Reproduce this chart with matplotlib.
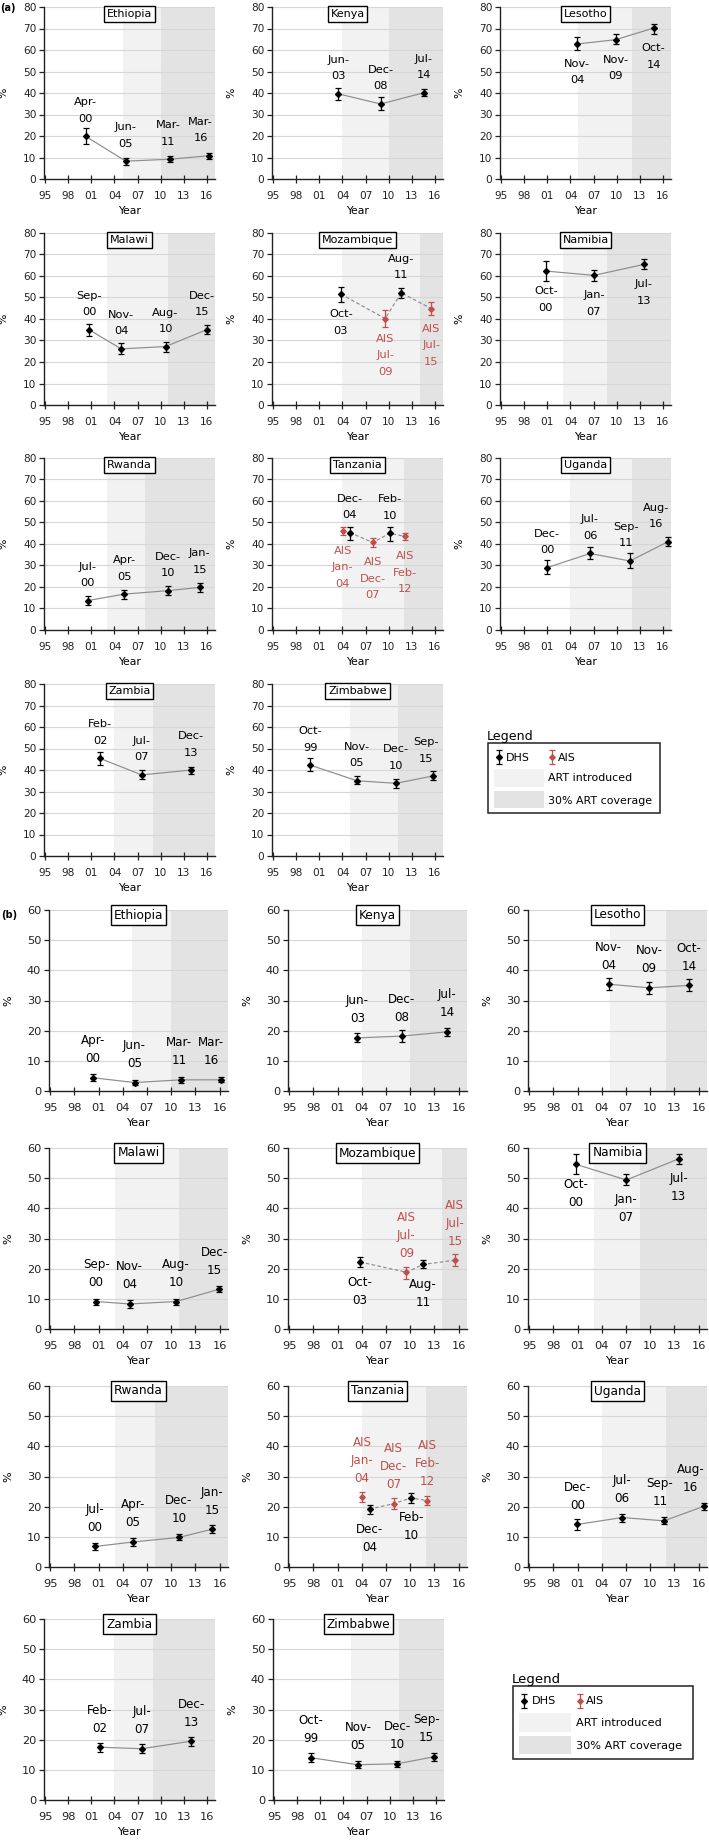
import matplotlib
matplotlib.use('Agg')
import matplotlib.pyplot as plt
from matplotlib.patches import Rectangle

plt.rcParams['font.family'] = ['DejaVu Sans']

# ---------------- data ----------------
countries = ['Ethiopia', 'Kenya', 'Lesotho', 'Malawi', 'Mozambique', 'Namibia',
             'Rwanda', 'Tanzania', 'Uganda', 'Zambia', 'Zimbabwe']

dhs_dates = {
    'Ethiopia': ['Apr-00', 'Jun-05', 'Mar-11', 'Mar-16'],
    'Kenya': ['Jun-03', 'Dec-08', 'Jul-14'],
    'Lesotho': ['Nov-04', 'Nov-09', 'Oct-14'],
    'Malawi': ['Sep-00', 'Nov-04', 'Aug-10', 'Dec-15'],
    'Mozambique': ['Oct-03', 'Aug-11'],
    'Namibia': ['Oct-00', 'Jan-07', 'Jul-13'],
    'Rwanda': ['Jul-00', 'Apr-05', 'Dec-10', 'Jan-15'],
    'Tanzania': ['Dec-04', 'Feb-10'],
    'Uganda': ['Dec-00', 'Jul-06', 'Sep-11', 'Aug-16'],
    'Zambia': ['Feb-02', 'Jul-07', 'Dec-13'],
    'Zimbabwe': ['Oct-99', 'Nov-05', 'Dec-10', 'Sep-15'],
}
ais_dates = {
    'Mozambique': ['Jul-09', 'Jul-15'],
    'Tanzania': ['Jan-04', 'Dec-07', 'Feb-12'],
}

# year ART introduced / year 30% ART coverage reached
art_intro = {'Ethiopia': 2005.1, 'Kenya': 2004, 'Lesotho': 2005, 'Malawi': 2003,
             'Mozambique': 2004, 'Namibia': 2003, 'Rwanda': 2003, 'Tanzania': 2004,
             'Uganda': 2004, 'Zambia': 2004, 'Zimbabwe': 2005}
art_30 = {'Ethiopia': 2010, 'Kenya': 2010, 'Lesotho': 2012, 'Malawi': 2011,
          'Mozambique': 2014, 'Namibia': 2008.8, 'Rwanda': 2008, 'Tanzania': 2012,
          'Uganda': 2012, 'Zambia': 2009, 'Zimbabwe': 2011.2}

# panel (a) estimates (%), with lower / upper CI
a_dhs_val = {'Ethiopia': [19.8, 8.3, 9.2, 10.8], 'Kenya': [39.6, 34.9, 40.1],
             'Lesotho': [62.8, 64.8, 70.2], 'Malawi': [35.0, 26.1, 27.2, 35.0],
             'Mozambique': [51.6, 52.2], 'Namibia': [62.3, 60.3, 65.4],
             'Rwanda': [13.7, 16.7, 18.3, 19.8], 'Tanzania': [45.3, 45.0],
             'Uganda': [29.0, 35.6, 32.1, 41.0], 'Zambia': [45.4, 37.7, 40.0],
             'Zimbabwe': [42.3, 35.0, 33.8, 37.2]}
a_dhs_lo = {'Ethiopia': [16.1, 6.7, 7.8, 9.2], 'Kenya': [36.9, 32.1, 38.5],
            'Lesotho': [60.2, 62.8, 67.5], 'Malawi': [32.3, 23.8, 24.8, 33.1],
            'Mozambique': [48.0, 49.8], 'Namibia': [57.6, 57.6, 63.1],
            'Rwanda': [11.4, 14.4, 16.4, 17.8], 'Tanzania': [41.9, 41.6],
            'Uganda': [26.2, 33.2, 29.0, 39.0], 'Zambia': [42.3, 35.7, 38.1],
            'Zimbabwe': [39.5, 33.5, 31.8, 35.3]}
a_dhs_hi = {'Ethiopia': [23.9, 9.7, 10.6, 12.3], 'Kenya': [42.1, 38.0, 41.9],
            'Lesotho': [65.9, 67.3, 72.3], 'Malawi': [37.8, 28.7, 29.5, 37.3],
            'Mozambique': [55.0, 54.2], 'Namibia': [67.0, 62.6, 68.1],
            'Rwanda': [15.9, 18.7, 20.3, 21.9], 'Tanzania': [48.1, 47.8],
            'Uganda': [32.4, 38.7, 35.9, 43.4], 'Zambia': [48.2, 40.0, 41.6],
            'Zimbabwe': [45.4, 37.1, 36.0, 39.5]}
a_ais_val = {'Mozambique': [40.2, 44.8], 'Tanzania': [46.2, 40.7, 43.5]}
a_ais_lo = {'Mozambique': [36.3, 42.0], 'Tanzania': [44.2, 38.8, 41.9]}
a_ais_hi = {'Mozambique': [44.4, 47.7], 'Tanzania': [48.1, 42.7, 45.0]}

# panel (b) estimates (%), with lower / upper CI
b_dhs_val = {'Ethiopia': [4.4, 2.8, 3.7, 3.7], 'Kenya': [17.6, 18.2, 19.6],
             'Lesotho': [35.4, 34.2, 35.0], 'Malawi': [9.1, 8.3, 9.1, 13.2],
             'Mozambique': [22.2, 21.4], 'Namibia': [54.6, 49.4, 56.4],
             'Rwanda': [6.8, 8.3, 9.8, 12.5], 'Tanzania': [19.2, 22.9],
             'Uganda': [14.1, 16.4, 15.3, 20.1], 'Zambia': [17.5, 17.0, 19.5],
             'Zimbabwe': [14.0, 11.7, 12.0, 14.3]}
b_dhs_lo = {'Ethiopia': [3.3, 2.1, 2.8, 3.0], 'Kenya': [16.4, 16.4, 18.3],
            'Lesotho': [33.5, 32.3, 33.2], 'Malawi': [8.0, 7.1, 8.0, 12.2],
            'Mozambique': [20.5, 20.1], 'Namibia': [51.3, 47.6, 54.6],
            'Rwanda': [5.8, 7.0, 8.8, 11.3], 'Tanzania': [17.7, 21.3],
            'Uganda': [12.4, 14.9, 14.1, 18.8], 'Zambia': [16.0, 15.5, 18.0],
            'Zimbabwe': [12.5, 10.5, 11.0, 13.0]}
b_dhs_hi = {'Ethiopia': [5.8, 3.7, 4.7, 4.6], 'Kenya': [19.3, 20.1, 20.8],
            'Lesotho': [37.6, 36.2, 37.2], 'Malawi': [10.1, 9.5, 10.1, 14.3],
            'Mozambique': [23.8, 22.9], 'Namibia': [58.0, 51.3, 57.9],
            'Rwanda': [7.9, 9.7, 10.9, 13.8], 'Tanzania': [20.7, 24.6],
            'Uganda': [15.8, 17.7, 16.5, 21.3], 'Zambia': [19.0, 18.5, 21.0],
            'Zimbabwe': [15.5, 13.0, 13.0, 15.7]}
b_ais_val = {'Mozambique': [18.8, 22.8], 'Tanzania': [23.2, 21.0, 22.0]}
b_ais_lo = {'Mozambique': [16.7, 21.0], 'Tanzania': [21.7, 19.2, 20.5]}
b_ais_hi = {'Mozambique': [20.5, 25.0], 'Tanzania': [25.0, 22.8, 23.5]}

x_ticks = [1995, 1998, 2001, 2004, 2007, 2010, 2013, 2016]
x_ticklabels = ['95', '98', '01', '04', '07', '10', '13', '16']

# ---------------- layout / style ----------------
W, H, DPI = 709, 1848, 100
MONTHS = ['Jan', 'Feb', 'Mar', 'Apr', 'May', 'Jun', 'Jul', 'Aug', 'Sep', 'Oct', 'Nov', 'Dec']
LIGHT, DARK = '#f2f2f2', '#e3e3e3'
AIS_C = '#c0504d'
LINE_C = '#8c8c8c'
XMIN, XMAX = 1994.85, 2017.05


def date_to_x(d):
    m, y = d.split('-')
    y = int(y)
    year = 1900 + y if y > 50 else 2000 + y
    return year + (MONTHS.index(m) + 0.5) / 12.0


# label placement: 'a' above, 'b' below ; horizontal shift (px)
a_dhs_place = {'Lesotho': 'bbb', 'Mozambique': 'ba', 'Namibia': 'bbb'}
a_ais_place = {'Mozambique': 'bb', 'Tanzania': 'bbb'}
b_dhs_place = {'Mozambique': 'bb', 'Namibia': 'bbb', 'Tanzania': 'bb'}
b_ais_place = {'Mozambique': 'aa', 'Tanzania': 'aaa'}
a_dx = {('Ethiopia', 3): -8, ('Ethiopia', 2): -2, ('Malawi', 3): -5,
        ('Uganda', 3): -12, ('Uganda', 2): -4, ('Zimbabwe', 3): -7}
b_dx = {('Ethiopia', 3): -10, ('Ethiopia', 2): -2, ('Malawi', 3): -5,
        ('Uganda', 3): -13, ('Uganda', 2): -4, ('Zimbabwe', 3): -7}
a_title_dx = {'Kenya': -10}
b_title_dx = {}

panels = {
    'a': dict(ymax=80, lefts=[[44, 272, 500]] * 4, tops=[7, 233, 458, 684],
              ws=[171] * 4, h=172,
              dhs=(a_dhs_val, a_dhs_lo, a_dhs_hi), ais=(a_ais_val, a_ais_lo, a_ais_hi),
              dplace=a_dhs_place, aplace=a_ais_place, dx=a_dx, tdx=a_title_dx,
              fs_tick=7.6, fs_axl=7.8, fs_lab=8.2, fs_title=8.0, ls=16.5, up=16.5, down=21,
              title_dy=7, legend=(488, 743, 172, 70), leg_fs=7.9, leg_title=9.1),
    'b': dict(ymax=60, lefts=[[49, 288, 528]] * 3 + [[44, 273, 528]], tops=[910, 1148, 1386, 1619],
              ws=[179] * 3 + [171], h=181,
              dhs=(b_dhs_val, b_dhs_lo, b_dhs_hi), ais=(b_ais_val, b_ais_lo, b_ais_hi),
              dplace=b_dhs_place, aplace=b_ais_place, dx=b_dx, tdx=b_title_dx,
              fs_tick=8.2, fs_axl=8.0, fs_lab=8.6, fs_title=8.7, ls=18, up=18, down=21,
              title_dy=5, legend=(513, 1686, 180, 73), leg_fs=8.1, leg_title=9.6),
}

fig = plt.figure(figsize=(W / DPI, H / DPI), dpi=DPI)
PX = 72.0 / DPI  # points per pixel


def add_labels(ax, xs, ys, dates, places, color, prefix, P, country, dx_map, ais=False):
    for i, (x, y, d) in enumerate(zip(xs, ys, dates)):
        m, yy = d.split('-')
        lines = ([prefix] if prefix else []) + [m + '-', yy]
        n = len(lines)
        place = places[i]
        dx = 0 if ais else dx_map.get((country, i), 0)
        for j, t in enumerate(lines):
            if place == 'a':
                off = P['up'] + (n - 1 - j) * P['ls']
            else:
                off = -(P['down'] + j * P['ls'])
            ax.annotate(t, xy=(x, y), xytext=(dx * PX, (off + 1) * PX),
                        textcoords='offset points', ha='center', va='center',
                        fontsize=P['fs_lab'], color=color, zorder=6,
                        annotation_clip=False)


for key, P in panels.items():
    for idx, c in enumerate(countries):
        r, col = divmod(idx, 3)
        left, top, w = P['lefts'][r][col], P['tops'][r], P['ws'][r]
        ax = fig.add_axes([left / W, 1 - (top + P['h']) / H, w / W, P['h'] / H])
        ax.set_xlim(XMIN, XMAX)
        ax.set_ylim(0, P['ymax'])
        ax.axvspan(art_intro[c], art_30[c], color=LIGHT, lw=0, zorder=0.1)
        ax.axvspan(art_30[c], XMAX, color=DARK, lw=0, zorder=0.1)
        ax.set_yticks(range(0, P['ymax'] + 1, 10))
        ax.yaxis.grid(True, color='#d6d6d6', lw=0.8)
        ax.set_axisbelow(True)
        ax.set_xticks(x_ticks)
        ax.set_xticklabels(x_ticklabels)
        for s in ('top', 'right'):
            ax.spines[s].set_visible(False)
        for s in ('left', 'bottom'):
            ax.spines[s].set_color('#222222')
            ax.spines[s].set_linewidth(1.0)
        ax.tick_params(axis='y', direction='out', length=3.5, width=0.9,
                       labelsize=P['fs_tick'], pad=2, colors='#222222')
        ax.tick_params(axis='x', direction='inout', length=5.5, width=0.9,
                       labelsize=P['fs_tick'], pad=6, colors='#222222')
        ax.set_ylabel('%', fontsize=P['fs_axl'], rotation=90)
        ax.yaxis.set_label_coords(-36 / w, 0.5)
        ax.set_xlabel('Year', fontsize=P['fs_axl'])
        ax.xaxis.set_label_coords(0.5, -32 / P['h'])
        ax.xaxis.label.set_va('center')

        dv, dl, dh = (P['dhs'][0][c], P['dhs'][1][c], P['dhs'][2][c])
        dx_ = [date_to_x(d) for d in dhs_dates[c]]
        if c in ais_dates:
            av, al, ah = (P['ais'][0][c], P['ais'][1][c], P['ais'][2][c])
            ax_ = [date_to_x(d) for d in ais_dates[c]]
            pts = sorted(list(zip(dx_, dv)) + list(zip(ax_, av)))
            if c == 'Tanzania':
                pts = pts[1:]
            ax.plot([p[0] for p in pts], [p[1] for p in pts], ls=(0, (3, 2)),
                    color=LINE_C, lw=0.85, zorder=3)
            ax.errorbar(ax_, av, yerr=[[v - l for v, l in zip(av, al)],
                                       [h - v for v, h in zip(av, ah)]],
                        fmt='D', ms=2.8, color=AIS_C, ecolor=AIS_C, elinewidth=0.9,
                        capsize=2.3, capthick=0.9, zorder=4)
            add_labels(ax, ax_, av, ais_dates[c], P['aplace'].get(c, 'a' * len(av)),
                       AIS_C, 'AIS', P, c, P['dx'], ais=True)
        else:
            ax.plot(dx_, dv, color=LINE_C, lw=0.85, zorder=3)
        ax.errorbar(dx_, dv, yerr=[[v - l for v, l in zip(dv, dl)],
                                   [h - v for v, h in zip(dv, dh)]],
                    fmt='D', ms=3.0, color='black', ecolor='black', elinewidth=0.9,
                    capsize=2.3, capthick=0.9, zorder=5)
        add_labels(ax, dx_, dv, dhs_dates[c], P['dplace'].get(c, 'a' * len(dv)),
                   'black', None, P, c, P['dx'])

        ax.text(0.5 + P['tdx'].get(c, 0) / w, 1 - P['title_dy'] / P['h'], c,
                transform=ax.transAxes,
                ha='center', va='center', fontsize=P['fs_title'], zorder=10,
                bbox=dict(boxstyle='square,pad=0.25', fc='white', ec='black', lw=1))

# overlay axes in pixel coordinates for panel letters and legends
ov = fig.add_axes([0, 0, 1, 1], zorder=-1)
ov.set_xlim(0, W)
ov.set_ylim(H, 0)
ov.axis('off')
ov.text(0, 8, '(a)', fontsize=7, fontweight='bold', va='center', ha='left')
ov.text(1, 915, '(b)', fontsize=7, fontweight='bold', va='center', ha='left')

ov2 = fig.add_axes([0, 0, 1, 1], zorder=20)
ov2.set_xlim(0, W)
ov2.set_ylim(H, 0)
ov2.axis('off')
for key, P in panels.items():
    bx, by, bw, bh = P['legend']
    s = bh / 73.0
    fs = P['leg_fs']
    ov2.text(bx - 1, by - 7 * s, 'Legend', fontsize=P['leg_title'], ha='left', va='center')
    ov2.add_patch(Rectangle((bx, by), bw, bh, fill=False, ec='#222222', lw=1.1))
    yrow = by + 14.5 * s
    ov2.errorbar([bx + 11 * s], [yrow], yerr=[[7 * s], [7 * s]], fmt='D', ms=3.0,
                 color='black', elinewidth=0.9, capsize=2.3, capthick=0.9)
    ov2.text(bx + 19 * s, yrow + 1, 'DHS', fontsize=fs, ha='left', va='center')
    ov2.errorbar([bx + 67 * s], [yrow], yerr=[[7 * s], [7 * s]], fmt='D', ms=2.8,
                 color=AIS_C, elinewidth=0.9, capsize=2.3, capthick=0.9)
    ov2.text(bx + 73 * s, yrow + 1, 'AIS', fontsize=fs, ha='left', va='center')
    ov2.add_patch(Rectangle((bx + 6 * s, by + 27 * s), 52 * s, 19 * s, fc=LIGHT, lw=0))
    ov2.text(bx + 63 * s, by + 37 * s, 'ART introduced', fontsize=fs, ha='left', va='center')
    ov2.add_patch(Rectangle((bx + 6 * s, by + 50 * s), 52 * s, 18 * s, fc=DARK, lw=0))
    ov2.text(bx + 63 * s, by + 60 * s, '30% ART coverage', fontsize=fs, ha='left', va='center')

fig.savefig('out.png', dpi=DPI, facecolor='white')
